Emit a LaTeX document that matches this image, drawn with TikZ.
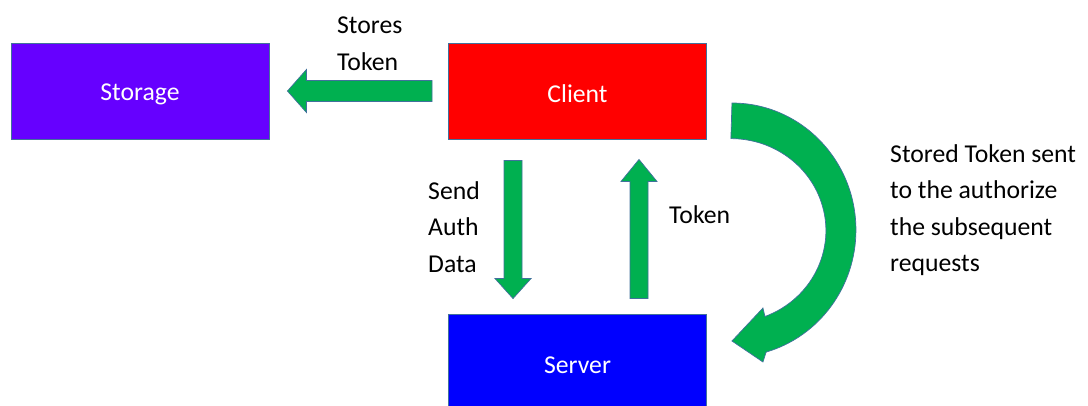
\documentclass[tikz,border=0pt]{standalone}
\usepackage{fontspec}
\setmainfont{Carlito}
\usetikzlibrary{calc}
\definecolor{storagefill}{HTML}{6600FF}
\definecolor{clientfill}{HTML}{FF0000}
\definecolor{serverfill}{HTML}{0000FF}
\definecolor{arrowfill}{HTML}{00B050}
\definecolor{edgeline}{HTML}{41719C}
\tikzset{
  box/.style={draw=edgeline, line width=0.9pt, minimum width=258pt, minimum height=96pt,
    inner sep=0pt, text=white, font=\fontsize{25.7}{36.5}\selectfont},
  boxtext/.style={inner sep=0pt, text=white, font=\fontsize{25.7}{36.5}\selectfont},
  blockarrow/.style={fill=arrowfill, draw=edgeline, line width=0.7pt, line join=miter},
  caption/.style={inner sep=0pt, align=left, anchor=base west, text=black,
    font=\fontsize{25.7}{36.5}\selectfont},
}
\begin{document}
\begin{tikzpicture}[x=1pt, y=-1pt]
\useasboundingbox (0,0) rectangle (1088,405);
\clip (0,0) rectangle (1088,405);

% the three parties
\node[box, fill=storagefill] (storage) at (140,91)    {};
\node[box, fill=clientfill]  (client)  at (577.5,91)  {};
\node[box, fill=serverfill]  (server)  at (577.5,362) {};
\node[boxtext] (tstorage) at ([yshift=-3]storage.center) {Storage};
\node[boxtext] (tclient)  at ([yshift=-3]client.center)  {Client};
\node[boxtext] (tserver)  at ([yshift=-3]server.center)  {Server};

% client -> storage
\draw[blockarrow] ([shift={(-16,-10.5)}]client.west) -- ([shift={(37,-10.5)}]storage.east)
  -- ([shift={(37,-21.5)}]storage.east) -- ([shift={(18,0)}]storage.east)
  -- ([shift={(37,21.5)}]storage.east) -- ([shift={(37,10.5)}]storage.east)
  -- ([shift={(-16,10.5)}]client.west) -- cycle;

% client -> server
\draw[blockarrow] ([shift={(-73.5,21)}]client.south) -- ([shift={(-55.5,21)}]client.south)
  -- ([shift={(-55.5,-35)}]server.north) -- ([shift={(-46.5,-35)}]server.north)
  -- ([shift={(-64.5,-15)}]server.north) -- ([shift={(-82.5,-35)}]server.north)
  -- ([shift={(-73.5,-35)}]server.north) -- cycle;

% server -> client
\draw[blockarrow] ([shift={(52.5,-15)}]server.north) -- ([shift={(70.5,-15)}]server.north)
  -- ([shift={(70.5,42)}]client.south) -- ([shift={(79.5,42)}]client.south)
  -- ([shift={(61.5,20)}]client.south) -- ([shift={(43.5,42)}]client.south)
  -- ([shift={(52.5,42)}]client.south) -- cycle;

% curved client -> server
\draw[blockarrow] ([shift={(25,12)}]client.east)
  arc[start angle=-90, end angle=74, x radius=124, y radius=127]
  -- ([shift={(56,0)}]server.east) -- ([shift={(25,-21)}]server.east)
  -- ([shift={(56,-54)}]server.east) -- ([shift={(58,-45.5)}]server.east)
  arc[start angle=69, end angle=-90, x radius=95, y radius=92] -- cycle;

% captions (anchored at the baseline of their last line)
\node[caption] (lstore) at (337,70)    {Stores\\Token};
\node[caption] (lsend)  at (428,272)   {Send\\Auth\\Data};
\node[caption] (ltoken) at (669,223)   {Token};
\node[caption] (lnext)  at (890,271.5) {Stored Token sent\\to the authorize\\the subsequent\\requests};
\end{tikzpicture}
\end{document}
